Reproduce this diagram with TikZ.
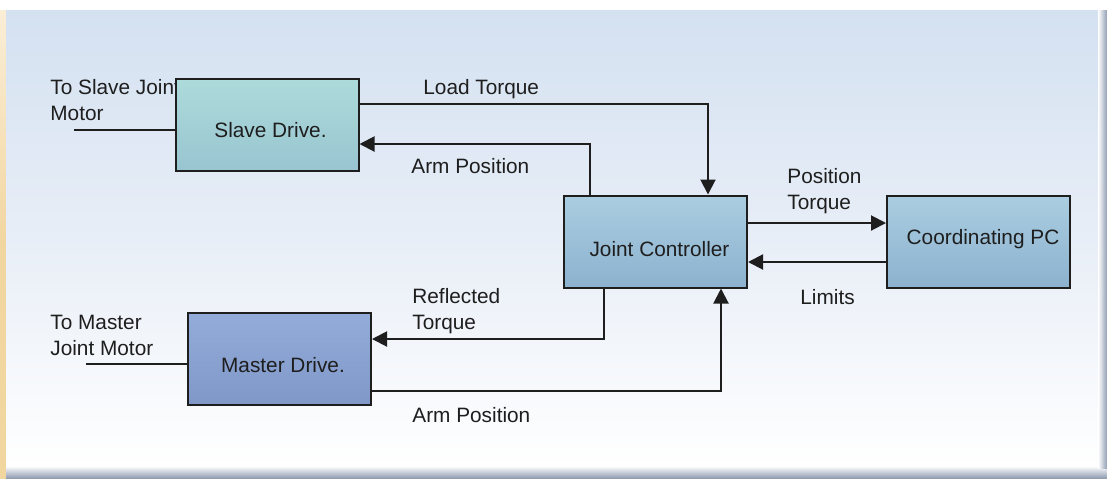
\documentclass[tikz,border=0pt]{standalone}
\usepackage{fontspec}
\setmainfont{Liberation Sans}
\usetikzlibrary{arrows.meta}
\definecolor{bgtop}{RGB}{212,225,241}
\definecolor{bgmid}{RGB}{232,238,247}
\definecolor{shadowc}{RGB}{145,157,180}
\definecolor{beigea}{RGB}{250,238,215}
\definecolor{beigeb}{RGB}{242,214,160}
\definecolor{slavetop}{RGB}{173,219,219}
\definecolor{slavebot}{RGB}{152,197,208}
\definecolor{jctop}{RGB}{170,205,224}
\definecolor{jcbot}{RGB}{140,178,207}
\definecolor{mastop}{RGB}{148,172,217}
\definecolor{masbot}{RGB}{128,152,200}
\definecolor{ink}{RGB}{30,30,30}
\begin{document}
\begin{tikzpicture}[x=0.5pt,y=-0.5pt,
  box/.style={draw=ink, line width=1pt, inner sep=0pt, minimum width=91.5pt, minimum height=46pt},
  txt/.style={text=ink, inner sep=0pt, font=\fontsize{10.4}{13}\selectfont, align=left},
  conn/.style={draw=ink, line width=1pt},
  arr/.style={conn, -{Triangle[length=7.5pt,width=7.5pt]}}]
\useasboundingbox (0,0) rectangle (1107,478);
% background
\fill[white] (0,0) rectangle (1107,478);
\shade[top color=beigea, bottom color=beigeb, middle color=beigeb] (0,10) rectangle (6,478);
\shade[top color=bgtop, bottom color=white, middle color=bgmid] (6,10) rectangle (1100,468);
\shade[top color=white, bottom color=shadowc] (6,466) rectangle (1107,478);
\shade[left color=white, right color=shadowc] (1098,10) rectangle (1107,468);
% texts behind boxes
\node[txt, anchor=west] (slavemot) at (50,100) {To Slave Joint\\Motor};
\node[txt, anchor=west] (mastmot) at (50,335) {To Master\\Joint Motor};
% boxes
\node[box, top color=slavetop, bottom color=slavebot] (slave) at (267,124.5) {};
\node[box, top color=mastop, bottom color=masbot] (master) at (279.5,358.5) {};
\node[box, top color=jctop, bottom color=jcbot] (jc) at (655.5,241.5) {};
\node[box, top color=jctop, bottom color=jcbot] (cpc) at (978.5,241.5) {};
\node[txt, anchor=base] (slavelbl) at (270.5,137) {Slave Drive.};
\node[txt, anchor=base] (masterlbl) at (283,372) {Master Drive.};
\node[txt, anchor=base] (jclbl) at (659.5,256) {Joint Controller};
\node[txt, anchor=base] (cpclbl) at (983,244) {Coordinating PC};
% connector coordinates
\coordinate (sm) at (74,130);
\coordinate (mm) at (86,364);
\coordinate (ltc) at (708,104);
\coordinate (apt) at (590,144);
\coordinate (ptc) at (0,223);
\coordinate (lmc) at (0,262);
\coordinate (rtc) at (604,339);
\coordinate (apb) at (721,391);
% connectors
\draw[conn] (sm) -- (sm -| slave.west);
\draw[conn] (mm) -- (mm -| master.west);
\draw[arr] (ltc -| slave.east) -| (ltc |- jc.north);
\draw[arr] (apt |- jc.north) |- (apt -| slave.east);
\draw[arr] (ptc -| jc.east) -- (ptc -| cpc.west);
\draw[arr] (lmc -| cpc.west) -- (lmc -| jc.east);
\draw[arr] (rtc |- jc.south) |- (rtc -| master.east);
\draw[arr] (apb -| master.east) -| (apb |- jc.south);
% connector labels
\node[txt, anchor=base west] (ltlbl) at (423,94) {Load Torque};
\node[txt, anchor=base west] (aptlbl) at (411,173) {Arm Position};
\node[txt, anchor=west] (ptlbl) at (787,191.5) {Position\\Torque};
\node[txt, anchor=base west] (lmlbl) at (800,304) {Limits};
\node[txt, anchor=west] (rtlbl) at (412,311) {Reflected\\Torque};
\node[txt, anchor=base west] (apblbl) at (412,422) {Arm Position};
\end{tikzpicture}
\end{document}
